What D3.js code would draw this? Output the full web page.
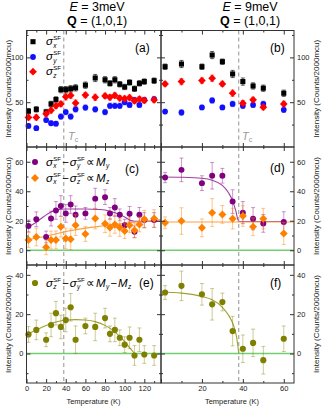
<!DOCTYPE html>
<html>
<head>
<meta charset="utf-8">
<script src="https://cdn.jsdelivr.net/npm/d3@7"></script>
<style>
body { margin: 0; background: #fff; }
text { font-family: "Liberation Sans", Arial, sans-serif; white-space: pre; }
</style>
</head>
<body>
<script>
// temperatures (K)
var tLeft = [2,10,20,25,30,35,40,45,50,60,70,80,85,90,95,100,105,110,115,120,130];
var tRight = [2,10,20,25,30,35,40,45,50,60];
var Tc = 38;

// E = 3meV : spin-flip cross sections
var sx3 = [40,42,39,48,53,64,64,65,66,69,77,75,71,75,70,67,72,65,71,73,74];
var sx3Err = [3,3,3,3,3,3.5,3.5,3.5,3.5,3.5,4,3.5,3,3.5,3,3,3,3,3,3,3];
var sy3 = [23.5,21,30,26.5,26,34,39,34,42,44,42,39,46,46,46,50,47,52.5,47,52.5,53.5];
var sy3Err = [2.5,2.5,2.5,2.5,2.5,3,3,3,3,3,3,3,3,3,3,3,3,3,3,3,3];
var sz3 = [33,33,37,41,46,48,56,57.5,49,58,55.5,57,55.5,57.5,54.5,54,55,51.5,53.5,52,52.5];
var sz3Err = [3,3,3,3,3,3,3.5,3.5,3.5,3,3.5,3,3,3,3,3,3,3,3,3,3];

// E = 3meV : differences
var my3 = [16.5,21,9,21.5,27,30,25,31,24,25,35,36,25,29,24,17,24.7,12.5,24,20.5,20.5];
var my3Err = [4,5,4,5,6,7,6,6,6,4,7,5,4,6,4,4,5,4,5,5,5];
var mz3 = [7,9,2,7,7,16,8,7.5,17,11,21.5,18,15.5,17.5,15.5,13,17,13.5,17.5,21,21.5];
var mz3Err = [5,6,5,6,6,7,7,7,7,5,7,6,6,6,6,5,5,5,5,6,6];
var d3v = [9.7,12,7,14.5,20.5,13.5,17,23.5,7,14,13.5,18,10,12,8,4.5,8,-1,7,-0.5,-1];
var d3Err = [4,5,3.5,6,6,6,6,7,7,4,7,5,4,6,4,4,5.5,5,6,4.5,5];

// E = 9meV
var sx9 = [89.6,92.6,89.6,102.6,95.2,81.5,73,68.1,65.6,60];
var sx9Err = [3,4,3,4,3,4,4,3.5,3.5,3.5];
var sy9 = [39.6,38.5,44.1,51.9,44.1,48.1,45.9,47,48.1,41.5];
var sy9Err = [2.5,3,2.5,3,2.5,3,3,3,3,3];
var sz9 = [70.4,73,74.1,76.7,70.4,60,48.9,52.6,44.4,48.1];
var sz9Err = [2.5,3.5,3,3.5,3,3.5,3,3,3,3];
var my9 = [49.3,54.5,45.5,50.5,50.5,33,25.5,21.4,18.2,19.1];
var my9Err = [3.5,8,5,9,5,8,7.5,7.5,6,7];
var mz9 = [18.6,19.8,15.2,25.5,24.3,21.4,23.2,15.9,21.4,11.4];
var mz9Err = [4,9,6,9.5,6,7,7,6,7,7.5];
var d9v = [31,34.4,30.1,25,26.2,11.4,2.4,5.4,-3.4,7.5];
var d9Err = [3.5,7.5,5.5,8,4.5,7.5,7,7,7,6.5];

// fit curves
var fitMy3T = [0,5,10,15,20,25,30,40,60,75,85,95,100,105,110,137];
var fitMy3 = [15.5,17,19,21.5,24,26,27.2,28,28,27.6,26.5,24.2,22.5,20.5,19.7,19.7];
var fitMz3T = [0,20,40,60,80,100,120,137];
var fitMz3 = [7,9.5,12.7,15,16.6,18.3,19.8,20.8];
var fitD3T = [0,10,20,30,40,50,60,70,80,90,100,105,110];
var fitD3 = [9.7,12,14.2,16,17,17.2,17,16.2,14.3,11,6,3,0];
var fitMy9T = [0,10,20,25,30,33,35,36.5,38,60];
var fitMy9 = [49.7,49.5,48.8,47.5,44,39,33.5,27,19.5,19.5];
var fitMz9T = [0,65];
var fitMz9 = [19.2,19.2];
var fitD9T = [0,10,20,25,30,33,35,37,38];
var fitD9 = [31.3,30.7,29,27.3,23.5,19.5,15.5,8,0];

var svg = d3.select("body").append("svg").attr("width",324).attr("height",410);

var xL = d3.scaleLinear().domain([0,137]).range([26.5,161]);
var xR = d3.scaleLinear().domain([0,65]).range([161,294]);
var yTop = d3.scaleLinear().domain([0,130]).range([147,30.5]);
var yMid = d3.scaleLinear().domain([-10,70]).range([265,147]);
var yBot = d3.scaleLinear().domain([-15,45]).range([383,265]);

var PURPLE = "#800080", ORANGE = "#ff8000", OLIVE = "#808000";

// rotated square for the diamond markers
var diamond = {
    draw: function(ctx, size){
        var r = Math.sqrt(size / 2);
        ctx.moveTo(0, -r); ctx.lineTo(r, 0); ctx.lineTo(0, r); ctx.lineTo(-r, 0); ctx.closePath();
    }
};

function zeroLine(x, y){
    svg.append("line")
        .attr("x1", x.range()[0]).attr("x2", x.range()[1])
        .attr("y1", y(0)).attr("y2", y(0))
        .attr("stroke", "#72cf72").attr("stroke-width", 1.6);
}

function tcLine(x, y){
    svg.append("line")
        .attr("x1", x(Tc)).attr("x2", x(Tc))
        .attr("y1", y.range()[1]).attr("y2", y.range()[0])
        .attr("stroke", "#888").attr("stroke-width", 0.9)
        .attr("stroke-dasharray", "4,3");
}

function fit(x, y, T, v, col){
    var pts = T.map(function(t,i){ return [t, v[i]]; });
    var line = d3.line().x(function(d){ return x(d[0]); }).y(function(d){ return y(d[1]); })
        .curve(d3.curveMonotoneX);
    svg.append("path").attr("d", line(pts)).attr("fill","none")
        .attr("stroke", col).attr("stroke-width", 1.1);
}

function series(x, y, T, v, err, shape, size, col, errCol){
    var g = svg.append("g");
    var eb = g.selectAll("g").data(T).enter().append("g").attr("stroke", errCol).attr("stroke-width", 0.9);
    eb.append("line")
        .attr("x1", function(d){ return x(d); }).attr("x2", function(d){ return x(d); })
        .attr("y1", function(d,i){ return y(v[i]-err[i]); })
        .attr("y2", function(d,i){ return y(v[i]+err[i]); });
    [-1, 1].forEach(function(s){
        eb.append("line")
            .attr("x1", function(d){ return x(d)-2; }).attr("x2", function(d){ return x(d)+2; })
            .attr("y1", function(d,i){ return y(v[i]+s*err[i]); })
            .attr("y2", function(d,i){ return y(v[i]+s*err[i]); });
    });
    g.selectAll("path").data(T).enter().append("path")
        .attr("d", d3.symbol().type(shape).size(size))
        .attr("transform", function(d,i){ return "translate(" + x(d) + "," + y(v[i]) + ")"; })
        .attr("fill", col);
}

function styleAxis(g){
    g.select(".domain").remove();
    g.selectAll(".tick line").attr("stroke", "#333");
    g.selectAll(".tick text").attr("font-size", 7.5).attr("fill", "#222")
        .attr("font-family", "'Liberation Sans', Arial, sans-serif");
}

function axes(x, y, xMaj, xMin, yMaj, yMin, xLab, ySide){
    var x0 = x.range()[0], x1 = x.range()[1], yb = y.range()[0], yt = y.range()[1];
    var hideZero = function(d){ return (ySide == "right" && d == 0) ? "" : d; };
    svg.append("g").attr("transform", "translate(0," + yb + ")")
        .call(d3.axisBottom(x).tickValues(xMaj).tickSize(-4).tickPadding(3).tickFormat(xLab ? hideZero : ""))
        .call(styleAxis);
    svg.append("g").attr("transform", "translate(0," + yb + ")")
        .call(d3.axisBottom(x).tickValues(xMin).tickSize(-2).tickFormat("")).call(styleAxis);
    svg.append("g").attr("transform", "translate(0," + yt + ")")
        .call(d3.axisTop(x).tickValues(xMaj).tickSize(-4).tickFormat("")).call(styleAxis);
    svg.append("g").attr("transform", "translate(0," + yt + ")")
        .call(d3.axisTop(x).tickValues(xMin).tickSize(-2).tickFormat("")).call(styleAxis);

    svg.append("g").attr("transform", "translate(" + x0 + ",0)")
        .call(d3.axisLeft(y).tickValues(yMaj).tickSize(-4).tickPadding(3).tickFormat(ySide == "left" ? d3.format("d") : ""))
        .call(styleAxis);
    svg.append("g").attr("transform", "translate(" + x0 + ",0)")
        .call(d3.axisLeft(y).tickValues(yMin).tickSize(-2).tickFormat("")).call(styleAxis);
    svg.append("g").attr("transform", "translate(" + x1 + ",0)")
        .call(d3.axisRight(y).tickValues(yMaj).tickSize(-4).tickPadding(3).tickFormat(ySide == "right" ? d3.format("d") : ""))
        .call(styleAxis);
    svg.append("g").attr("transform", "translate(" + x1 + ",0)")
        .call(d3.axisRight(y).tickValues(yMin).tickSize(-2).tickFormat("")).call(styleAxis);

    svg.append("rect").attr("x", x0).attr("y", yt).attr("width", x1-x0).attr("height", yb-yt)
        .attr("fill", "none").attr("stroke", "#333").attr("stroke-width", 1);

    var yc = (yb + yt) / 2, lx = ySide == "left" ? 10.5 : 318.5;
    svg.append("text").attr("transform", "translate(" + lx + "," + yc + ") rotate(-90)")
        .attr("text-anchor", "middle").attr("font-size", 8).attr("fill", "#222")
        .text("Intensity (Counts/2000mcu)");
}

function plabel(x, y, s){
    svg.append("text").attr("x", x).attr("y", y).attr("font-size", 12).text(s);
}

// rich text with stacked super/subscripts
function rich(x, y, parts){
    var cx = x;
    parts.forEach(function(p){
        if (p.t){
            var m = svg.append("text").attr("x", cx).attr("y", y).attr("font-size", 11.5)
                .attr("font-style", p.it ? "italic" : null).text(p.t);
            cx += m.node().getComputedTextLength();
        }
        var w = 0;
        if (p.sup){
            var a = svg.append("text").attr("x", cx+0.3).attr("y", y-5).attr("font-size", 6).text(p.sup);
            w = Math.max(w, a.node().getComputedTextLength());
        }
        if (p.sub){
            var b = svg.append("text").attr("x", cx+0.3).attr("y", y+2.5).attr("font-size", 6.5)
                .attr("font-style", "italic").text(p.sub);
            w = Math.max(w, b.node().getComputedTextLength());
        }
        cx += w + (w ? 0.6 : 0);
    });
    return cx;
}

function marker(x, y, shape, size, col){
    svg.append("path").attr("d", d3.symbol().type(shape).size(size))
        .attr("transform", "translate(" + x + "," + y + ")").attr("fill", col);
}

function tcLabel(x, y){
    var t = svg.append("text").attr("x", x).attr("y", y).attr("fill", "#999").attr("font-size", 11);
    t.append("tspan").attr("font-style", "italic").text("T");
    t.append("tspan").attr("font-size", 7).attr("dy", 2).text("c");
}

var xMajL = [0,20,40,60,80,100,120], xMinL = [10,30,50,70,90,110,130];
var xMajR = [0,20,40,60], xMinR = [10,30,50];

// ---- (a) ----
tcLine(xL, yTop);
series(xL, yTop, tLeft, sx3, sx3Err, d3.symbolSquare, 26, "#000", "rgba(0,0,0,0.7)");
series(xL, yTop, tLeft, sy3, sy3Err, d3.symbolCircle, 26, "#1010ff", "rgba(40,40,255,0.55)");
series(xL, yTop, tLeft, sz3, sz3Err, diamond, 30, "#ff0000", "rgba(255,0,0,0.55)");
axes(xL, yTop, xMajL, xMinL, [50,100], [25,75,125], false, "left");
// ---- (b) ----
tcLine(xR, yTop);
series(xR, yTop, tRight, sx9, sx9Err, d3.symbolSquare, 26, "#000", "rgba(0,0,0,0.7)");
series(xR, yTop, tRight, sy9, sy9Err, d3.symbolCircle, 26, "#1010ff", "rgba(40,40,255,0.55)");
series(xR, yTop, tRight, sz9, sz9Err, diamond, 30, "#ff0000", "rgba(255,0,0,0.55)");
axes(xR, yTop, xMajR, xMinR, [50,100], [25,75,125], false, "right");

// ---- (c) ----
zeroLine(xL, yMid);
tcLine(xL, yMid);
fit(xL, yMid, fitMy3T, fitMy3, "#a040a0");
fit(xL, yMid, fitMz3T, fitMz3, "#ffa040");
series(xL, yMid, tLeft, my3, my3Err, d3.symbolCircle, 28, PURPLE, "rgba(128,0,128,0.45)");
series(xL, yMid, tLeft, mz3, mz3Err, diamond, 32, ORANGE, "rgba(255,128,0,0.5)");
axes(xL, yMid, xMajL, xMinL, [0,20,40,60], [10,30,50], false, "left");
// ---- (d) ----
zeroLine(xR, yMid);
tcLine(xR, yMid);
fit(xR, yMid, fitMy9T, fitMy9, "#a040a0");
fit(xR, yMid, fitMz9T, fitMz9, "#ffa040");
series(xR, yMid, tRight, my9, my9Err, d3.symbolCircle, 28, PURPLE, "rgba(128,0,128,0.45)");
series(xR, yMid, tRight, mz9, mz9Err, diamond, 32, ORANGE, "rgba(255,128,0,0.5)");
axes(xR, yMid, xMajR, xMinR, [0,20,40,60], [10,30,50], false, "right");

// ---- (e) ----
zeroLine(xL, yBot);
tcLine(xL, yBot);
fit(xL, yBot, fitD3T, fitD3, "#a0a030");
series(xL, yBot, tLeft, d3v, d3Err, d3.symbolCircle, 30, OLIVE, "rgba(128,128,0,0.45)");
axes(xL, yBot, xMajL, xMinL, [0,20,40], [-10,10,30], true, "left");
// ---- (f) ----
zeroLine(xR, yBot);
tcLine(xR, yBot);
fit(xR, yBot, fitD9T, fitD9, "#a0a030");
series(xR, yBot, tRight, d9v, d9Err, d3.symbolCircle, 30, OLIVE, "rgba(128,128,0,0.45)");
axes(xR, yBot, xMajR, xMinR, [0,20,40], [-10,10,30], true, "right");

// x titles
svg.append("text").attr("x", 93.5).attr("y", 404).attr("text-anchor", "middle")
    .attr("font-size", 7.5).attr("fill", "#222").text("Temperature (K)");
svg.append("text").attr("x", 232).attr("y", 404).attr("text-anchor", "middle")
    .attr("font-size", 7.5).attr("fill", "#222").text("Temperature (K)");

// headers
var h1 = svg.append("text").attr("x", 97).attr("y", 11).attr("text-anchor", "middle").attr("font-size", 12.5);
h1.append("tspan").attr("font-style", "italic").text("E");
h1.append("tspan").text(" = 3meV");
var h2 = svg.append("text").attr("x", 97).attr("y", 24.5).attr("text-anchor", "middle").attr("font-size", 12.5);
h2.append("tspan").attr("font-weight", "bold").text("Q");
h2.append("tspan").text(" = (1,0,1)");
var h3 = svg.append("text").attr("x", 250).attr("y", 11).attr("text-anchor", "middle").attr("font-size", 12.5);
h3.append("tspan").attr("font-style", "italic").text("E");
h3.append("tspan").text(" = 9meV");
var h4 = svg.append("text").attr("x", 250).attr("y", 24.5).attr("text-anchor", "middle").attr("font-size", 12.5);
h4.append("tspan").attr("font-weight", "bold").text("Q");
h4.append("tspan").text(" = (1,0,1)");

// panel labels
plabel(135, 52, "(a)");
plabel(270, 52, "(b)");
plabel(125, 173, "(c)");
plabel(270, 172, "(d)");
plabel(139, 287, "(e)");
plabel(270, 287, "(f)");

// Tc labels
tcLabel(68, 140);
tcLabel(242, 140);

var MINUS = "\u200a\u2212\u200a", PROP = "\u200a\u221d\u200a";

// legend (a)
marker(33, 41.7, d3.symbolSquare, 26, "#000");
rich(46, 45, [{t: "σ", it: true, sub: "x", sup: "SF"}]);
marker(33, 57, d3.symbolCircle, 26, "#1010ff");
rich(46, 60.3, [{t: "σ", it: true, sub: "y", sup: "SF"}]);
marker(33, 71.7, diamond, 30, "#ff0000");
rich(46, 75, [{t: "σ", it: true, sub: "z", sup: "SF"}]);

// legend (c)
marker(35, 162, d3.symbolCircle, 28, PURPLE);
rich(46, 165.5, [{t: "σ", it: true, sub: "x", sup: "SF"}, {t: MINUS}, {t: "σ", it: true, sub: "y", sup: "SF"},
    {t: PROP}, {t: "M", it: true, sub: "y"}]);
marker(35, 178, diamond, 32, ORANGE);
rich(46, 181.5, [{t: "σ", it: true, sub: "x", sup: "SF"}, {t: MINUS}, {t: "σ", it: true, sub: "z", sup: "SF"},
    {t: PROP}, {t: "M", it: true, sub: "z"}]);

// legend (e)
marker(35, 283, d3.symbolCircle, 30, OLIVE);
rich(46, 286.5, [{t: "σ", it: true, sub: "z", sup: "SF"}, {t: MINUS}, {t: "σ", it: true, sub: "y", sup: "SF"},
    {t: PROP}, {t: "M", it: true, sub: "y"}, {t: MINUS}, {t: "M", it: true, sub: "z"}]);
</script>
</body>
</html>
